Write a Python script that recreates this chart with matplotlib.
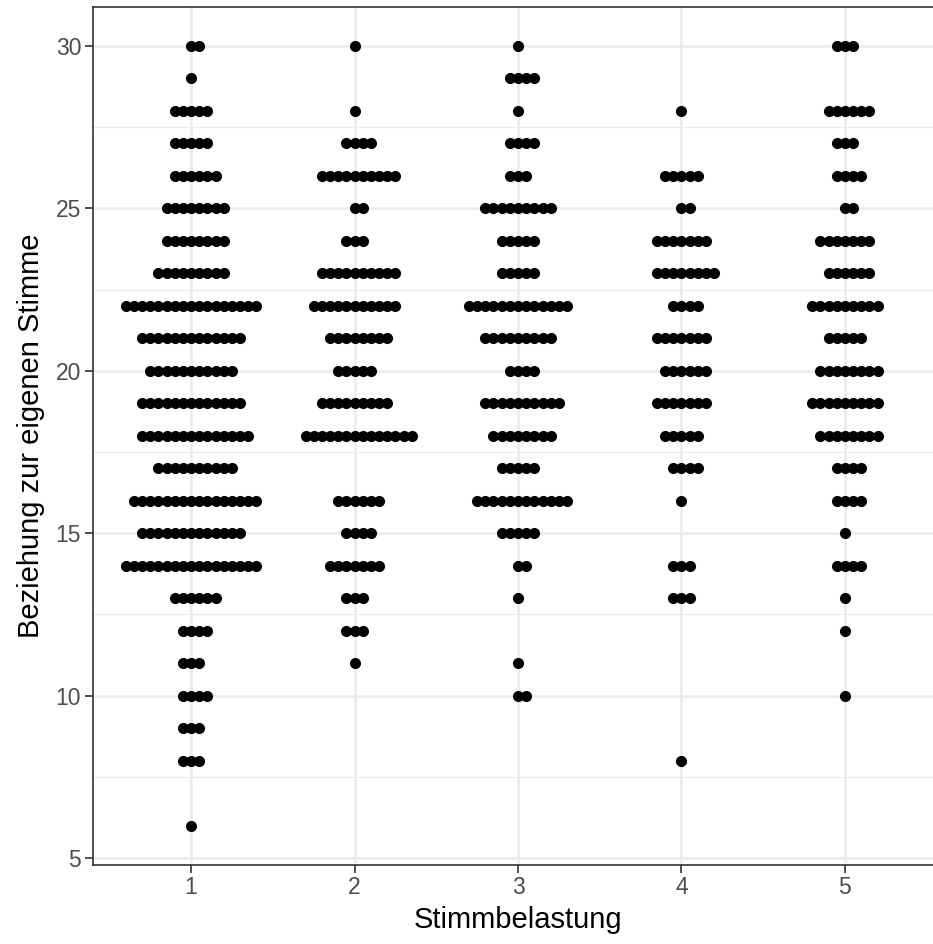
import matplotlib
matplotlib.use("Agg")
from matplotlib import pyplot as plt

plt.rcParams['font.family'] = ['Liberation Sans', 'DejaVu Sans']

# Counts of answers per score, one list pair per Stimmbelastung level
y_1 = [30, 29, 28, 27, 26, 25, 24, 23, 22, 21, 20, 19, 18, 17, 16, 15, 14, 13, 12, 11, 10, 9, 8, 6]
n_1 = [2, 1, 5, 5, 6, 8, 8, 9, 17, 13, 11, 13, 14, 10, 16, 13, 17, 6, 4, 3, 4, 3, 3, 1]

y_2 = [30, 28, 27, 26, 25, 24, 23, 22, 21, 20, 19, 18, 16, 15, 14, 13, 12, 11]
n_2 = [1, 1, 4, 10, 2, 3, 10, 11, 8, 5, 9, 14, 6, 4, 7, 3, 3, 1]

y_3 = [30, 29, 28, 27, 26, 25, 24, 23, 22, 21, 20, 19, 18, 17, 16, 15, 14, 13, 11, 10]
n_3 = [1, 4, 1, 4, 3, 9, 5, 5, 13, 9, 4, 10, 8, 5, 12, 5, 2, 1, 1, 2]

y_4 = [28, 26, 25, 24, 23, 22, 21, 20, 19, 18, 17, 16, 14, 13, 8]
n_4 = [1, 5, 2, 7, 8, 4, 7, 6, 7, 5, 4, 1, 3, 3, 1]

y_5 = [30, 28, 27, 26, 25, 24, 23, 22, 21, 20, 19, 18, 17, 16, 15, 14, 13, 12, 10]
n_5 = [3, 6, 3, 4, 2, 7, 6, 9, 5, 8, 9, 8, 4, 4, 1, 4, 1, 1, 1]

groups = [1, 2, 3, 4, 5]
ys = [y_1, y_2, y_3, y_4, y_5]
ns = [n_1, n_2, n_3, n_4, n_5]

# beeswarm layout: 0, +1, -1, +2, -2, ... times the dot spacing
spacing = 0.05
px, py = [], []
for g, yv, nv in zip(groups, ys, ns):
    for y, n in zip(yv, nv):
        for k in range(n):
            off = ((k + 1) // 2) * (1 if k % 2 == 1 else -1)
            px.append(g + off * spacing)
            py.append(y)

fig = plt.figure(figsize=(9.33, 9.44), dpi=100)
ax = fig.add_axes([93 / 933, 79.5 / 944, 850 / 933, 857.5 / 944])

ax.scatter(px, py, s=64, color='black', linewidths=0, zorder=3)

ax.set_xlim(0.4, 5.6)
ax.set_ylim(4.8, 31.2)
ax.set_xticks(groups)
ax.set_yticks([5, 10, 15, 20, 25, 30])
ax.set_yticks([7.5, 12.5, 17.5, 22.5, 27.5], minor=True)

ax.grid(True, which='major', color='#EBEBEB', linewidth=1.8, zorder=0)
ax.grid(True, which='minor', axis='y', color='#EBEBEB', linewidth=0.9, zorder=0)
ax.set_axisbelow(True)

for s in ax.spines.values():
    s.set_color('#333333')
    s.set_linewidth(1.2)

ax.tick_params(which='major', length=5.5, width=1.2, color='#333333',
               labelsize=16.5, labelcolor='#4D4D4D', pad=3)
ax.tick_params(which='minor', length=0)

ax.set_xlabel('Stimmbelastung', fontsize=21, labelpad=5)
ax.set_ylabel('Beziehung zur eigenen Stimme', fontsize=21, labelpad=8)

fig.savefig('out.png', dpi=100)
